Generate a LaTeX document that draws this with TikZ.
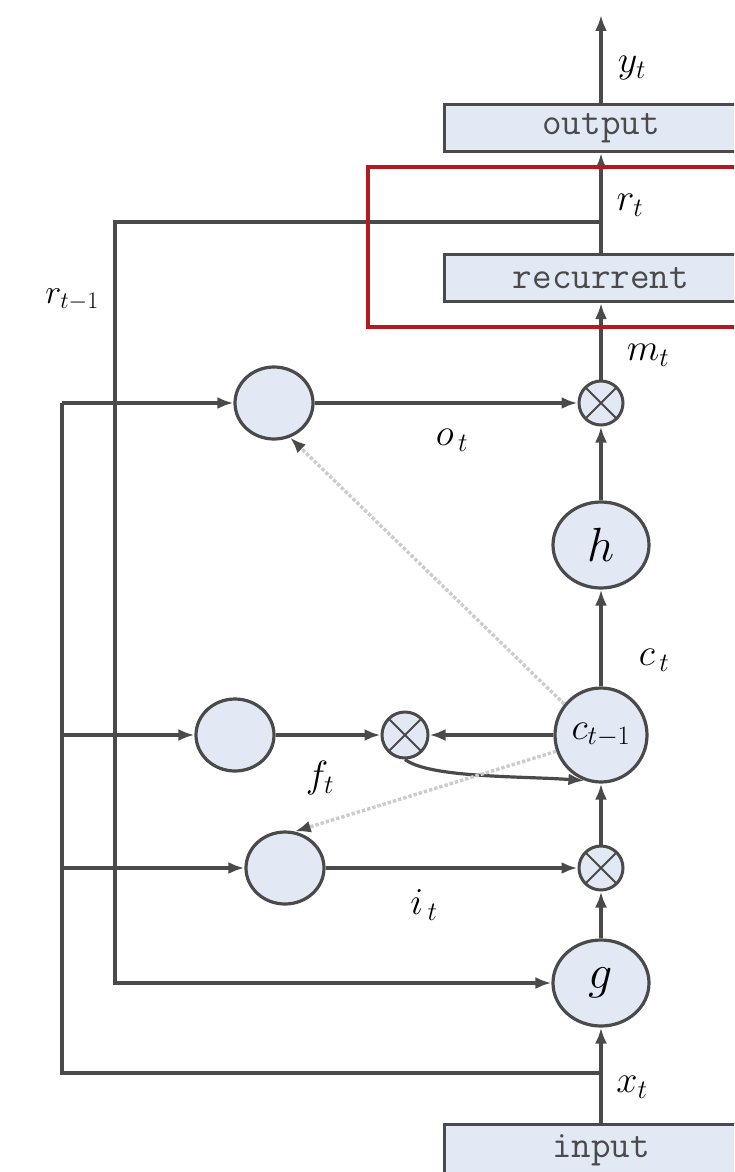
\RequirePackage{fix-cm}
\documentclass[tikz,border=0pt]{standalone}
\usepackage{fontspec}
\usepackage{tikz}
\usetikzlibrary{shapes.geometric,arrows.meta}
\definecolor{cellfill}{HTML}{E2E9F5}
\definecolor{cellline}{HTML}{4A4A4A}
\definecolor{frame}{HTML}{B3191F}
\newcommand{\lbl}{\fontsize{38}{38}\selectfont}

\begin{document}
\begin{tikzpicture}[x=1pt, y=-1pt,
    line/.style={draw=cellline, line width=3.2pt},
    arr/.style={line, -{Latex[length=16pt,width=12pt]}},
    peep/.style={draw=gray!40, line width=3.4pt, dotted, -{Latex[length=16pt,width=12pt,color=cellline]}},
    layer/.style={draw=cellline, line width=3pt, fill=cellfill, minimum width=314pt, minimum height=47pt, inner sep=0pt, font=\ttfamily\fontsize{38}{38}\selectfont, text=cellline},
    gate/.style={ellipse, draw=cellline, line width=3.2pt, fill=cellfill, minimum width=78pt, minimum height=72pt, inner sep=0pt},
    act/.style={gate, minimum width=96pt, minimum height=86pt, font=\fontsize{48}{48}\selectfont},
    mult/.style={circle, draw=cellline, line width=3pt, fill=cellfill, minimum size=44pt, inner sep=0pt,
      path picture={\draw[cellline, line width=2pt] (path picture bounding box.north west) -- (path picture bounding box.south east)
        (path picture bounding box.north east) -- (path picture bounding box.south west);}}]
  \clip (0,0) rectangle (734,1172);
  \fill[white] (0,0) rectangle (734,1172);

  % layers
  \node[layer] (outp) at (601,128) {output};
  \node[layer] (recur) at (601,278) {recurrent};
  \node[layer, minimum height=52pt] (inp) at (601,1150) {input};

  % cell
  \node[mult] (omul) at (601,403) {};
  \node[act] (hnode) at (601,545) {$h$};
  \node[act, minimum width=92pt, minimum height=94pt, font=\fontsize{38}{38}\selectfont] (cprev) at (601,735) {$c_{t-1}$};
  \node[mult, minimum size=46pt] (fmul) at (405,735) {};
  \node[mult] (imul) at (601,868) {};
  \node[act] (gnode) at (601,983) {$g$};

  % gates
  \node[gate] (ogate) at (274,403) {};
  \node[gate] (fgate) at (235,735) {};
  \node[gate] (igate) at (285,868) {};

  % turning points
  \coordinate (ytop) at (601,15);
  \coordinate (rbr) at (601,222);
  \coordinate (rtop) at (115,222);
  \coordinate (rbot) at (115,983);
  \coordinate (xbr) at (601,1073);
  \coordinate (xbot) at (62,1073);
  \coordinate (xtop) at (62,403);
  \coordinate (xf) at (62,735);
  \coordinate (xi) at (62,868);

  % main path
  \draw[arr] (outp.north) -- (ytop);
  \draw[arr] (recur.north) -- (outp.south);
  \draw[arr] (omul.north) -- (recur.south);
  \draw[arr] (hnode.north) -- (omul.south);
  \draw[arr] (cprev.north) -- (hnode.south);
  \draw[arr] (imul.north) -- (cprev.south);
  \draw[arr] (gnode.north) -- (imul.south);
  \draw[arr] (inp.north) -- (gnode.south);

  % recurrence and input
  \draw[arr] (rbr) -- (rtop) -- (rbot) -- (gnode.west);
  \draw[line] (xbr) -- (xbot) -- (xtop);
  \draw[arr] (xtop) -- (ogate.west);
  \draw[arr] (xf) -- (fgate.west);
  \draw[arr] (xi) -- (igate.west);

  % gate outputs
  \draw[arr] (ogate.east) -- (omul.west);
  \draw[arr] (fgate.east) -- (fmul.west);
  \draw[arr] (igate.east) -- (imul.west);
  \draw[arr] (cprev.west) -- (fmul.east);
  \draw[arr] (fmul.south) .. controls (430,778) and (520,776) .. (cprev.250);

  % peepholes
  \draw[peep] (cprev.140) -- (ogate.295);
  \draw[peep] (cprev.200) -- (igate.75);

  % highlight
  \draw[frame, line width=3.8pt] (368,167) rectangle (770,327);

  % labels
  \node[font=\lbl] (ylbl) at (632,68) {$y_t$};
  \node[font=\lbl] (rlbl) at (630,205) {$r_t$};
  \node[font=\lbl] (mlbl) at (648,355) {$m_t$};
  \node[font=\fontsize{34}{34}\selectfont] (rplbl) at (72,300) {$r_{t-1}$};
  \node[font=\lbl] (olbl) at (452,440) {$o_{\,t}$};
  \node[font=\lbl] (clbl) at (654,660) {$c_{\,t}$};
  \node[font=\lbl] (flbl) at (320,778) {$f_t$};
  \node[font=\lbl] (ilbl) at (424,905) {$i_{\,t}$};
  \node[font=\lbl] (xlbl) at (632,1087) {$x_t$};
\end{tikzpicture}
\end{document}
